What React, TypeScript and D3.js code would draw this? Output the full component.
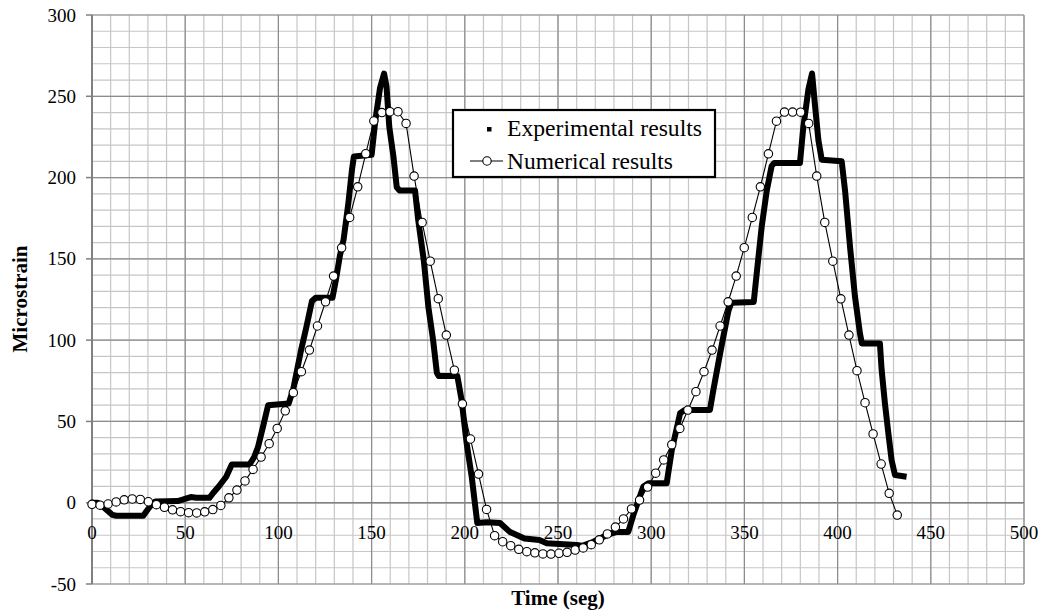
import React from "react";
import * as d3 from "d3";

// ---- data ----
const xTicks = [0, 50, 100, 150, 200, 250, 300, 350, 400, 450, 500];
const yTicks = [-50, 0, 50, 100, 150, 200, 250, 300];

const expTime = [0, 3, 7, 11, 13, 27.5, 30, 32, 34, 46, 49, 53, 56, 63, 65, 68, 72, 75, 84.5, 87, 89, 92, 94.5, 105.5, 108, 112, 115, 118, 120, 129, 131, 133, 135, 137.5, 139.5, 140.5, 150, 152, 154.5, 156.7, 158, 159.5, 161.7, 163.5, 165, 173.3, 175, 178, 180.5, 183, 185, 186, 196, 198.3, 201, 203.7, 206.7, 212, 218.9, 224, 232, 240, 244, 260, 263, 269, 276, 281.5, 287.7, 290.4, 295.8, 298.5, 308.3, 311, 315.5, 318, 331.5, 333.3, 337, 341.4, 343, 355, 356.6, 359.3, 362, 364.6, 366, 379.8, 381.6, 384.3, 386.3, 388, 389.7, 391.5, 402.2, 404, 406.7, 409.3, 412, 413, 422.7, 423.6, 425.4, 427.2, 429, 430.8, 437];
const expValue = [0, 0, -3.5, -7.5, -8, -8, -4, -1, 0.8, 1, 2, 3.5, 3, 3, 6, 10, 16, 23.5, 23.5, 28, 34, 48, 60, 61, 70, 93, 108, 124, 126, 126, 138, 152, 162, 184, 205, 213, 214, 235, 255, 264, 256, 231, 213, 194, 192, 192, 174, 149, 120, 100, 80, 78, 78, 63, 36.5, 16, -12.5, -12, -12.5, -17.8, -22, -23, -25, -26, -26.5, -24, -20, -18, -18, -7.6, 10, 12, 12, 32, 55, 57, 57, 69, 92, 118, 123, 123.5, 141, 170, 192, 207, 209, 209, 231, 254, 264, 243, 223, 211, 210, 192, 157, 127, 104, 98, 98, 82, 61, 43, 26, 17, 16];

const numTime = [
  0, 4.32, 8.64, 12.96, 17.28, 21.6, 25.92, 30.24, 34.56, 38.88,
  43.2, 47.52, 51.84, 56.16, 60.48, 64.8, 69.12, 73.44, 77.76, 82.08,
  86.4, 90.72, 95.04, 99.36, 103.68, 108, 112.32, 116.64, 120.96, 125.28,
  129.6, 133.92, 138.24, 142.56, 146.88, 151.2, 155.52, 159.84, 164.16, 168.48,
  172.8, 177.12, 181.44, 185.76, 190.08, 194.4, 198.72, 203.04, 207.36, 211.68,
  216, 220.32, 224.64, 228.96, 233.28, 237.6, 241.92, 246.24, 250.56, 254.88,
  259.2, 263.52, 267.84, 272.16, 276.48, 280.8, 285.12, 289.44, 293.76, 298.08,
  302.4, 306.72, 311.04, 315.36, 319.68, 324, 328.32, 332.64, 336.96, 341.28,
  345.6, 349.92, 354.24, 358.56, 362.88, 367.2, 371.52, 375.84, 380.16, 384.48,
  388.8, 393.12, 397.44, 401.76, 406.08, 410.4, 414.72, 419.04, 423.36, 427.68,
  432,
];
const numValue = [
  -1, -1.5, -0.8, 0.5, 1.8, 2.3, 2, 0.6, -1.2, -2.8,
  -4.4, -5.5, -6.1, -6.3, -5.6, -4.2, -1.7, 3, 7.8, 13.4,
  20.5, 28.1, 36.3, 45.7, 56.5, 67.7, 80.6, 93.9, 108.7, 123.6,
  139.4, 156.8, 175.5, 194.3, 214.7, 234.8, 240, 240.5, 240.5, 233.3,
  200.9, 172.4, 148.6, 125.5, 103.1, 81.5, 60.8, 39.2, 17.6, -4.1,
  -20.3, -24, -26.4, -28.7, -30.1, -30.8, -31.5, -31.6, -31.1, -30.5,
  -29.1, -27.8, -25.8, -22.8, -19.2, -15, -10, -3.8, 1.6, 9.6,
  18.2, 26.3, 35.7, 45.7, 57, 68.3, 80.6, 93.9, 108.7, 123.6,
  139.4, 156.9, 175.5, 194.3, 214.6, 234.7, 240.3, 240.3, 240.2, 233.3,
  200.9, 172.4, 148.6, 125.4, 103.1, 81.2, 61.5, 42.3, 23.8, 5.8,
  -7.6,
];

const legendLabels = ["Experimental results", "Numerical results"];

export default function App() {
  const W = 1042, H = 616;
  const x = d3.scaleLinear().domain([0, 500]).range([92, 1024]);
  const y = d3.scaleLinear().domain([-50, 300]).range([584, 15]);
  const minorX = d3.range(0, 501, 10);
  const minorY = d3.range(-50, 301, 10);

  const expPts: [number, number][] = expTime.map((t, i) => [t, expValue[i]]);
  const numPts: [number, number][] = numTime.map((t, i) => [t, numValue[i]]);
  const line = d3.line<[number, number]>().x((d) => x(d[0])).y((d) => y(d[1]));

  const font = "'Liberation Serif', 'Times New Roman', serif";

  return (
    <svg width={W} height={H} style={{ position: "absolute", left: 0, top: 0 }} fontFamily={font}>
      <rect x={0} y={0} width={W} height={H} fill="#fff" />
      {/* minor grid */}
      {minorX.map((v) => (
        <line key={"mx" + v} x1={x(v)} x2={x(v)} y1={y(-50)} y2={y(300)} stroke="#c6c6c6" strokeWidth={1.2} />
      ))}
      {minorY.map((v) => (
        <line key={"my" + v} x1={x(0)} x2={x(500)} y1={y(v)} y2={y(v)} stroke="#c6c6c6" strokeWidth={1.2} />
      ))}
      {/* major grid */}
      {xTicks.map((v) => (
        <line key={"Mx" + v} x1={x(v)} x2={x(v)} y1={y(-50)} y2={y(300)} stroke="#8c8c8c" strokeWidth={1.2} />
      ))}
      {yTicks.map((v) => (
        <line key={"My" + v} x1={x(0)} x2={x(500)} y1={y(v)} y2={y(v)} stroke="#8c8c8c" strokeWidth={1.2} />
      ))}
      {/* axes */}
      <line x1={x(0)} x2={x(0)} y1={y(-50)} y2={y(300)} stroke="#808080" strokeWidth={2} />
      <line x1={x(0)} x2={x(500)} y1={y(0)} y2={y(0)} stroke="#808080" strokeWidth={1.6} />
      {yTicks.map((v) => (
        <line key={"tk" + v} x1={x(0) - 6} x2={x(0)} y1={y(v)} y2={y(v)} stroke="#808080" strokeWidth={1.5} />
      ))}
      {/* tick labels */}
      {yTicks.map((v) => (
        <text key={"yl" + v} x={76} y={y(v) + 6.5} textAnchor="end" fontSize={19} fill="#000">
          {v}
        </text>
      ))}
      {xTicks.map((v) => (
        <text key={"xl" + v} x={x(v)} y={y(0) + 36} textAnchor="middle" fontSize={19} fill="#000">
          {v}
        </text>
      ))}
      {/* axis titles */}
      <text x={558} y={605} textAnchor="middle" fontSize={21} fontWeight="bold">Time (seg)</text>
      <text transform={`translate(27,299) rotate(-90)`} textAnchor="middle" fontSize={21} fontWeight="bold">Microstrain</text>

      {/* experimental */}
      <path d={line(expPts) || ""} fill="none" stroke="#000" strokeWidth={6} strokeLinejoin="round" />
      {/* numerical */}
      <path d={line(numPts) || ""} fill="none" stroke="#000" strokeWidth={1.1} />
      {numPts.map((d, i) => (
        <circle key={"c" + i} cx={x(d[0])} cy={y(d[1])} r={4.2} fill="#fff" stroke="#000" strokeWidth={1.1} />
      ))}

      {/* legend */}
      <rect x={453} y={110} width={262} height={67} fill="#fff" stroke="#000" strokeWidth={2.2} />
      <rect x={487} y={127} width={4.5} height={4.5} fill="#000" />
      <text x={507} y={136} fontSize={23} textLength={195} lengthAdjust="spacingAndGlyphs">{legendLabels[0]}</text>
      <line x1={470} x2={503} y1={161} y2={161} stroke="#000" strokeWidth={1.1} />
      <circle cx={487} cy={161} r={4.2} fill="#fff" stroke="#000" strokeWidth={1.1} />
      <text x={507} y={169} fontSize={23} textLength={166} lengthAdjust="spacingAndGlyphs">{legendLabels[1]}</text>
    </svg>
  );
}
